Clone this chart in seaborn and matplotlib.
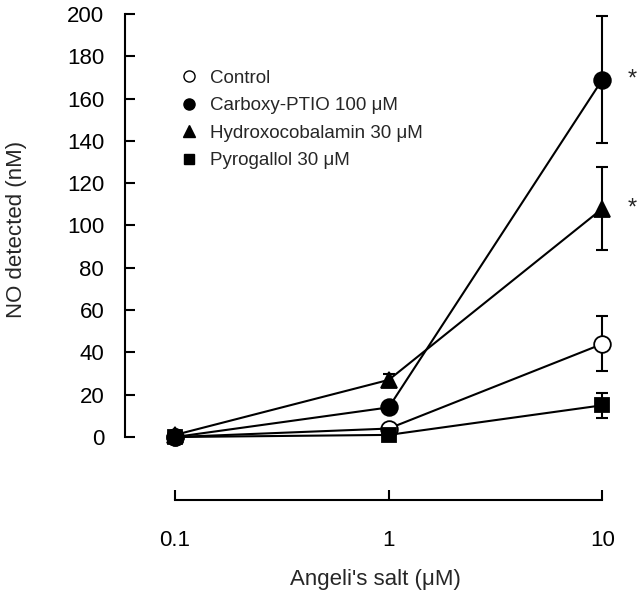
import matplotlib
matplotlib.use("Agg")
import matplotlib.pyplot as plt
import seaborn as sns
import pandas as pd
import numpy as np
from matplotlib.lines import Line2D

sns.set_theme(style="white")
plt.rcParams['font.family'] = ['Liberation Sans', 'DejaVu Sans']

doses = [0.1, 1, 10]
series = ["Control", "Carboxy-PTIO 100 \u03bcM", "Hydroxocobalamin 30 \u03bcM", "Pyrogallol 30 \u03bcM"]
control = [0, 4, 44]
carboxy = [0, 14, 169]
hydroxo = [1, 27, 108]
pyro = [0, 1, 15]
control_err = [0, 1, 13]
carboxy_err = [0, 1, 30]
hydroxo_err = [0, 3, 19.5]
pyro_err = [0, 1, 6]
xticks = [0.1, 1, 10]
xticklabels = ["0.1", "1", "10"]
yticks = [0, 20, 40, 60, 80, 100, 120, 140, 160, 180, 200]

values = [control, carboxy, hydroxo, pyro]
errs = [control_err, carboxy_err, hydroxo_err, pyro_err]
markers = ["o", "o", "^", "s"]
faces = ["white", "black", "black", "black"]

df = pd.DataFrame({
    "dose": doses * len(series),
    "value": [v for vals in values for v in vals],
    "series": [s for s in series for _ in doses],
})

fig = plt.figure(figsize=(6.4, 5.92), dpi=100)
ax = fig.add_axes([0.1953, 0.1546, 0.7817, 0.8218])

for name, vals, err, m, fc in zip(series, values, errs, markers, faces):
    sub = df[df.series == name]
    ax.errorbar(doses, vals, yerr=err, fmt="none", ecolor="black",
                elinewidth=1.5, capsize=4, capthick=1.5, zorder=2, clip_on=False)
    sns.lineplot(data=sub, x="dose", y="value", ax=ax, color="black",
                 linewidth=1.5, marker=m, markersize=12 if m != "s" else 10,
                 markerfacecolor=fc, markeredgecolor="black", markeredgewidth=1.3,
                 legend=False, zorder=3, clip_on=False)

ax.set_xscale("log")
ax.set_xlim(0.0583, 12.8)
ax.set_ylim(-30, 200)
ax.set_xticks(xticks)
ax.set_xticklabels(xticklabels)
ax.minorticks_off()
ax.set_yticks(yticks)

for s in ["top", "right"]:
    ax.spines[s].set_visible(False)
for s in ["left", "bottom"]:
    ax.spines[s].set_color("black")
    ax.spines[s].set_linewidth(1.5)
ax.spines["left"].set_bounds(0, 200)
ax.spines["bottom"].set_bounds(0.1, 10)

ax.tick_params(axis="both", direction="in", length=7, width=1.5, colors="black",
               labelsize=16, left=True, bottom=True)
ax.tick_params(axis="y", pad=15)
ax.tick_params(axis="x", pad=21)

ax.set_xlabel("Angeli's salt (\u03bcM)", fontsize=16, labelpad=13)
ax.set_ylabel("NO detected (nM)", fontsize=16)
ax.yaxis.set_label_coords(-0.195, 0.557)

handles = [Line2D([], [], linestyle="none", marker=m, markersize=8 if m != "s" else 7,
                  markerfacecolor=fc, markeredgecolor="black", markeredgewidth=1)
           for m, fc in zip(markers, faces)]
leg = ax.legend(handles, series, loc="upper left", bbox_to_anchor=(0.076, 0.92),
                frameon=False, fontsize=13.5, handlelength=1.0, handletextpad=0.6,
                labelspacing=0.55)

for x, y in [(10, 169), (10, 108)]:
    ax.annotate("*", xy=(x, y), xytext=(18, 0), textcoords="offset points",
                fontsize=17, ha="left", va="center", annotation_clip=False)

fig.savefig("out.png", dpi=100)
